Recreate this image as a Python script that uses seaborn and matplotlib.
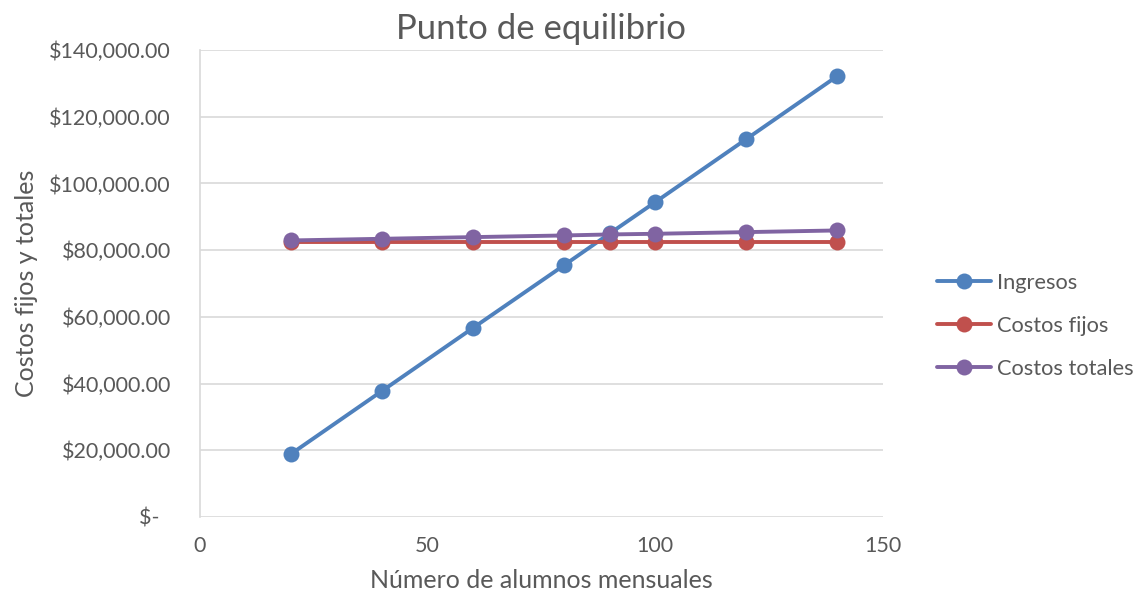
import matplotlib
matplotlib.use("Agg")
import matplotlib.pyplot as plt
from matplotlib.ticker import FuncFormatter
import seaborn as sns
import pandas as pd

# Alumnos por mes y montos (MXN)
alumnos = [20, 40, 60, 80, 90, 100, 120, 140]
ingresos = [18900, 37800, 56700, 75500, 85000, 94400, 113300, 132200]
costos_fijos = [82400, 82400, 82400, 82400, 82400, 82400, 82400, 82400]
costos_totales = [82900, 83400, 83900, 84400, 84700, 84900, 85400, 85900]

series = ["Ingresos", "Costos fijos", "Costos totales"]
colores = ["#4F81BD", "#C0504D", "#8064A2"]

df = pd.DataFrame({
    "alumnos": alumnos * 3,
    "monto": ingresos + costos_fijos + costos_totales,
    "serie": [s for s in series for _ in alumnos],
})

sns.set_theme(style="white")
plt.rcParams["font.family"] = ["Lato", "DejaVu Sans"]
gris = "#595959"

fig = plt.figure(figsize=(11.33, 5.93), dpi=100)
ax = fig.add_axes([0.1765, 0.1282, 0.6028, 0.7875])

sns.lineplot(data=df, x="alumnos", y="monto", hue="serie", hue_order=series,
             palette=colores, marker="o", markersize=11.5, markeredgewidth=0,
             linewidth=2.8, ax=ax, sort=False)

ax.set_xlim(0, 150)
ax.set_ylim(0, 140000)
ax.set_xticks([0, 50, 100, 150])
ax.set_yticks(range(0, 140001, 20000))


def fmt(v, _):
    if v == 0:
        return "$-  "
    return f"${v:,.2f}"


ax.yaxis.set_major_formatter(FuncFormatter(fmt))
ax.grid(axis="y", color="#D9D9D9", linewidth=1.2)
ax.set_axisbelow(True)
for side in ["top", "right", "bottom"]:
    ax.spines[side].set_visible(False)
ax.spines["left"].set_color("#D9D9D9")
ax.spines["left"].set_linewidth(1.2)
ax.tick_params(axis="both", colors=gris, labelsize=15.5, length=0)
ax.tick_params(axis="x", pad=14)
ax.tick_params(axis="y", pad=21)

ax.set_title("Punto de equilibrio", fontsize=25, color=gris, pad=8)
ax.set_xlabel("Número de alumnos mensuales", fontsize=18, color=gris, labelpad=9)
ax.set_ylabel("Costos fijos y totales", fontsize=18, color=gris, labelpad=8)

leg = ax.legend(loc="center left", bbox_to_anchor=(1.05, 0.409), frameon=False,
                fontsize=15.75, labelcolor=gris, handlelength=2.5,
                handletextpad=0.25, labelspacing=1.05)

fig.savefig("out.png", dpi=100)
